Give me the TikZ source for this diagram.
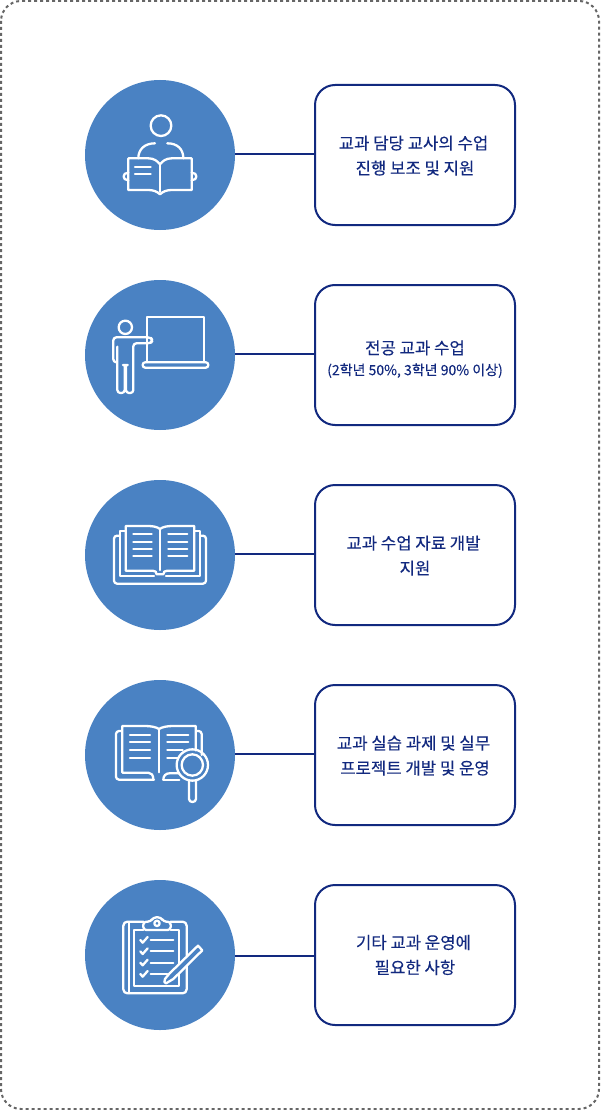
\documentclass[tikz,border=0pt]{standalone}
\usepackage{fontspec}
\setmainfont{Noto Sans CJK KR}[FakeBold=0.2]
\usepackage{xcolor}
\usetikzlibrary{positioning}
\definecolor{circleblue}{RGB}{74,130,195}
\definecolor{boxnavy}{RGB}{18,41,127}
\definecolor{framegray}{RGB}{102,102,102}

\begin{document}
\begin{tikzpicture}[
    x=1pt, y=-1pt,
    badge/.style={circle, fill=circleblue, minimum size=150pt, inner sep=0pt},
    duty/.style={rectangle, draw=boxnavy, line width=2pt, rounded corners=20pt, fill=white,
                 minimum width=200pt, minimum height=140pt, inner sep=2pt, align=center,
                 text=boxnavy, font=\fontsize{16.7}{25}\selectfont},
    link/.style={draw=boxnavy, line width=2pt},
    glyph/.style={draw=white, line width=2.3pt, line cap=round, line join=round},
    icon/.style={x=0.3333pt, y=-0.3333pt, glyph}
]
\useasboundingbox (0,0) rectangle (600,1110);
\draw[framegray, line width=2pt, dash pattern=on 3pt off 3pt, rounded corners=20pt] (1,1) rectangle (599,1109);

\node[badge] (reading) at (160,155) {};
\node[badge] (lecture) at (160,355) {};
\node[badge] (material) at (160,555) {};
\node[badge] (practice) at (160,755) {};
\node[badge] (clipboard) at (160,955) {};

\node[duty] (assist) at (415,155) {\rule{0pt}{15pt}교과 담당 교사의 수업\kern3pt\\진행 보조 및 지원};
\node[duty] (major) at (415,355) {\rule{0pt}{22pt}전공 교과 수업\\[-4pt]{\fontsize{14}{20}\selectfont (2학년 50\%, 3학년 90\% 이상)}};
\node[duty] (develop) at (415,555) {\rule{0pt}{15pt}교과 수업 자료 개발\kern3pt\\지원};
\node[duty] (project) at (415,755) {\rule{0pt}{15pt}교과 실습 과제 및 실무\kern3pt\\프로젝트 개발 및 운영};
\node[duty] (other) at (415,955) {\rule{0pt}{13pt}기타 교과 운영에\kern3pt\\필요한 사항};

% Connectors
\draw[link] ([yshift=1pt]reading.east) -- ([yshift=1pt]assist.west);
\draw[link] ([yshift=1pt]lecture.east) -- ([yshift=1pt]major.west);
\draw[link] ([yshift=1pt]material.east) -- ([yshift=1pt]develop.west);
\draw[link] ([yshift=1pt]practice.east) -- ([yshift=1pt]project.west);
\draw[link] ([yshift=-1pt]clipboard.east) -- ([yshift=-1pt]other.west);

% Reader
\begin{scope}[shift={(80,75)}, icon]
\draw (243,152) circle (31);
\draw (175,250) .. controls (175,222) and (195,205) .. (225,205);
\draw (262,205) .. controls (292,205) and (310,222) .. (310,250);
\draw (145,250) -- (205,250) .. controls (222,250) and (232,258) .. (240,268)
      .. controls (248,258) and (258,250) .. (275,250) -- (335,250) -- (335,345) -- (275,345)
      .. controls (260,345) and (248,350) .. (240,358)
      .. controls (232,350) and (220,345) .. (205,345) -- (145,345) -- cycle;
\draw (240,268) -- (240,350);
\draw (165,275) -- (212,275);
\draw (165,298) -- (212,298);
\draw (145,293) .. controls (126,293) and (126,316) .. (145,316);
\draw (335,293) .. controls (354,293) and (354,316) .. (335,316);
\end{scope}

% Teacher
\begin{scope}[shift={(80,275)}, icon]
\draw (136,157) circle (20);
\draw (200,262) -- (200,126) -- (373,126) -- (373,262);
\draw[rounded corners=2.5pt] (188,262) rectangle (385,278);
\draw[rounded corners=3pt] (112,262) -- (100,262) -- (100,187) -- (212,187) -- (218,196) -- (212,205)
      -- (160,205) -- (160,354) -- (138,354) -- (138,270) -- (134,270) -- (134,354) -- (112,354) -- (112,215);
\end{scope}

% Open book
\begin{scope}[shift={(80,475)}, icon]
\draw[rounded corners=3pt] (120,182) -- (102,182) -- (102,326) -- (378,326) -- (378,182) -- (360,182);
\draw (137,168) -- (120,168) -- (120,304) -- (222,304);
\draw (258,304) -- (360,304) -- (360,168) -- (343,168);
\draw (137,153) -- (205,153) .. controls (220,153) and (232,156) .. (240,162)
      .. controls (248,156) and (260,153) .. (275,153) -- (343,153) -- (343,287) -- (262,287)
      .. controls (254,287) and (250,291) .. (250,298) -- (230,298)
      .. controls (230,291) and (226,287) .. (218,287) -- (137,287) -- cycle;
\draw (240,162) -- (240,285);
\draw (160,178) -- (215,178);
\draw (160,200) -- (215,200);
\draw (160,221) -- (215,221);
\draw (160,243) -- (215,243);
\draw (265,178) -- (322,178);
\draw (265,200) -- (322,200);
\draw (265,221) -- (322,221);
\draw (265,243) -- (322,243);
\end{scope}

% Book with magnifier
\begin{scope}[shift={(80,675)}, icon]
\draw[rounded corners=3pt] (125,168) -- (108,168) -- (108,314) -- (222,314);
\draw (250,314) -- (298,314);
\draw[rounded corners=3pt] (350,168) -- (365,168) -- (365,240);
\draw (220,314) .. controls (220,300) and (214,293) .. (205,293) -- (127,293) -- (127,153) -- (195,153)
      .. controls (212,153) and (228,156) .. (237,162)
      .. controls (246,156) and (262,153) .. (279,153) -- (347,153) -- (347,226);
\draw (250,314) .. controls (250,302) and (258,295) .. (268,295) -- (296,295);
\draw (237,162) -- (237,292);
\draw (150,180) -- (210,180);
\draw (150,202) -- (210,202);
\draw (150,226) -- (210,226);
\draw (150,249) -- (210,249);
\draw (262,180) -- (325,180);
\draw (262,202) -- (325,202);
\draw (262,226) -- (308,226);
\draw (262,249) -- (293,249);
\draw (337,270) circle (47);
\draw (337,270) circle (32);
\draw (327,318) -- (327,372) .. controls (327,384) and (348,384) .. (348,372) -- (348,318);
\end{scope}

% Clipboard with pencil
\begin{scope}[shift={(80,875)}, icon]
\draw[rounded corners=4pt] (190,140) -- (130,140) -- (130,355) -- (320,355) -- (320,140) -- (272,140);
\draw (147,145) -- (147,355);
\draw (190,165) -- (163,165) -- (163,332) -- (298,332) -- (298,165) -- (272,165);
\draw[rounded corners=3pt] (190,165) -- (190,140) -- (212,140) -- (220,127) -- (243,127) -- (250,140) -- (272,140) -- (272,165) -- cycle;
\draw (231,145) circle (8);
\draw (181,195) -- (188,203) -- (203,186);
\draw (181,229) -- (188,237) -- (203,220);
\draw (181,263) -- (188,271) -- (203,254);
\draw (181,297) -- (188,305) -- (203,288);
\draw (212,195) -- (280,195);
\draw (212,229) -- (280,229);
\draw (212,263) -- (280,263);
\draw (212,297) -- (262,297);
\draw[fill=circleblue] (268,296) -- (354,212) -- (367,226) -- (280,312) -- (258,325) .. controls (252,326) and (252,318) .. (255,312) -- cycle;
\end{scope}

\end{tikzpicture}
\end{document}
